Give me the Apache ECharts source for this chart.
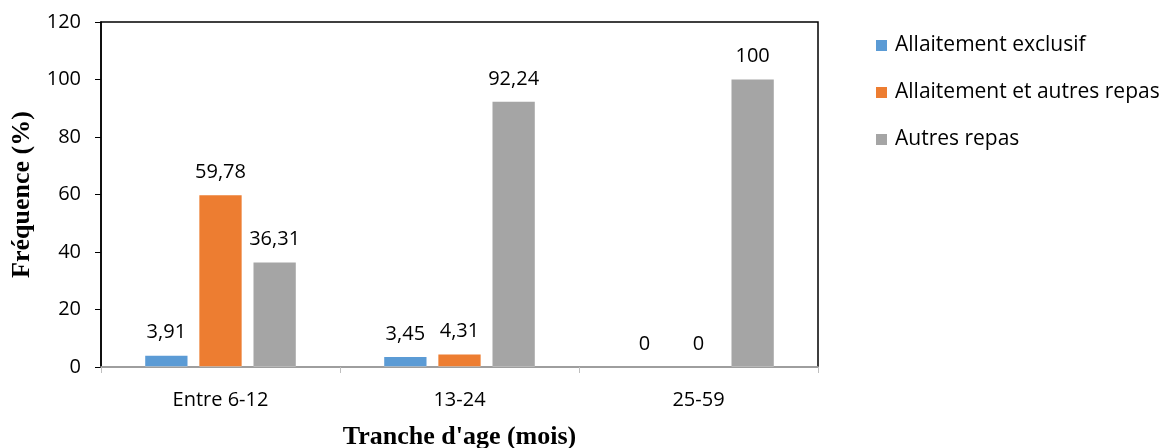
<!DOCTYPE html>
<html>
<head>
<meta charset="utf-8">
<script src="https://cdn.jsdelivr.net/npm/echarts@6/dist/echarts.min.js"></script>
<style>
  html, body { margin: 0; padding: 0; background: #fff; }
  #chart { width: 1169px; height: 448px; }
</style>
</head>
<body>
<div id="chart"></div>
<script>
// Age groups and feeding practice frequencies (%)
const categories = ['Entre 6-12', '13-24', '25-59'];
const seriesNames = ['Allaitement exclusif', 'Allaitement et autres repas', 'Autres repas'];
const allaitementExclusif = [3.91, 3.45, 0];
const allaitementAutres = [59.78, 4.31, 0];
const autresRepas = [36.31, 92.24, 100];
const yTicks = [0, 20, 40, 60, 80, 100, 120];

const colors = ['#5B9BD5', '#ED7D31', '#A5A5A5'];
const labelFont = '"Open Sans", Lato, sans-serif';
const titleFont = '"Liberation Serif", "Times New Roman", serif';

const fmt = v => String(v).replace('.', ',');

const makeSeries = (name, data, color) => ({
  name: name,
  type: 'bar',
  data: data,
  barGap: '28%',
  barCategoryGap: '37%',
  itemStyle: { color: color },
  label: {
    show: true,
    position: 'top',
    distance: 13,
    color: '#000',
    fontFamily: labelFont,
    fontSize: 20,
    formatter: p => fmt(p.value)
  }
});

const chart = echarts.init(document.getElementById('chart'));
chart.setOption({
  animation: false,
  color: colors,
  grid: {
    left: 101, right: 351, top: 22, bottom: 81,
    outerBoundsMode: 'none',
    containLabel: false,
    show: true, borderColor: '#000', borderWidth: 1.5
  },
  legend: {
    orient: 'vertical',
    left: 876, top: 35,
    padding: 0,
    itemWidth: 11, itemHeight: 11,
    itemGap: 26,
    icon: 'rect',
    textStyle: { fontFamily: labelFont, fontSize: 21, color: '#000', padding: [0, 0, 0, 3] },
    data: seriesNames
  },
  xAxis: {
    type: 'category',
    data: categories,
    name: "Tranche d'age (mois)",
    nameLocation: 'middle',
    nameMoveOverlap: false,
    nameGap: 57,
    nameTextStyle: { fontFamily: titleFont, fontWeight: 'bold', fontSize: 26, color: '#000' },
    axisLine: { lineStyle: { color: '#BFBFBF', width: 1.5 }, z: 10 },
    axisTick: { show: true, alignWithLabel: false, length: 6, lineStyle: { color: '#BFBFBF' } },
    axisLabel: { fontFamily: labelFont, fontSize: 20, color: '#000', margin: 23 },
    z: 10
  },
  yAxis: {
    type: 'value',
    min: 0, max: 120, interval: 20,
    name: 'Fréquence (%)',
    nameLocation: 'middle',
    nameMoveOverlap: false,
    nameGap: 66,
    nameTextStyle: { fontFamily: titleFont, fontWeight: 'bold', fontSize: 26, color: '#000' },
    axisLine: { show: true, lineStyle: { color: '#000', width: 1.5 } },
    axisTick: { show: true, length: 6, lineStyle: { color: '#000' } },
    axisLabel: {
      fontFamily: labelFont, fontSize: 20, color: '#000', margin: 20,
      formatter: v => (yTicks.includes(v) ? String(v) : '')
    },
    splitLine: { show: false }
  },
  series: [
    makeSeries(seriesNames[0], allaitementExclusif, colors[0]),
    makeSeries(seriesNames[1], allaitementAutres, colors[1]),
    makeSeries(seriesNames[2], autresRepas, colors[2])
  ]
});
</script>
</body>
</html>
